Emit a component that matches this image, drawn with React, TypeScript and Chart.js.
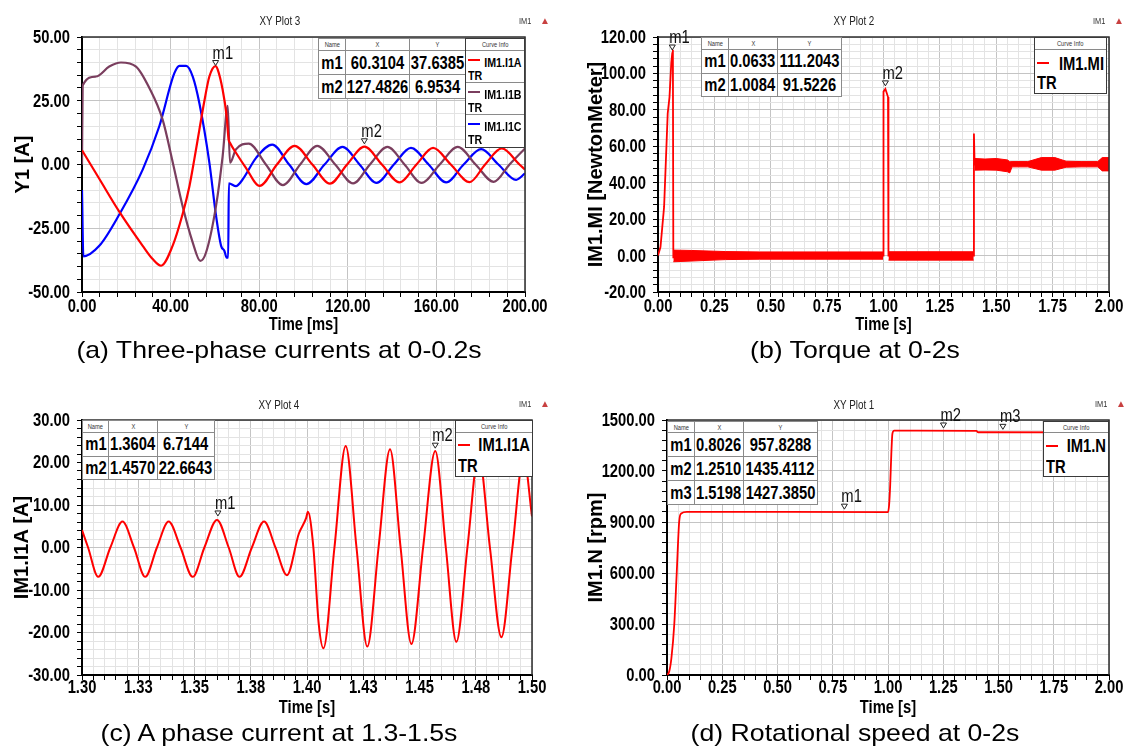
import React, { useEffect, useRef } from 'react';
import { Chart, registerables } from 'chart.js';

Chart.register(...registerables);

const SANS = "'Liberation Sans', Arial, sans-serif";
const NX = 0.82; // horizontal condensing factor (emulates a narrow face)
const MAJOR = '#c4c4c4';
const MINOR = '#e3e3e3';
const RED = '#ff0000';
const PURPLE = '#7a3e5e';
const BLUE = '#0000ff';

// ---------- (a) Three-phase currents, 0-200 ms ----------
const aTimeA = [0, 7.8, 16.9, 27.4, 31.9, 35.7, 40.9, 45.4, 48.5, 50.7, 53, 55.2, 57.5, 60.3, 61.2, 63.5, 65.3, 66.2, 66.8, 69.5, 74, 80.2, 88, 96, 104, 111.9, 119.7, 127.5, 135.4, 143.3, 151, 158.5, 166.5, 175, 182, 189.5, 197.5, 200];
const aCurA = [5.6, -5.6, -18.6, -31.9, -37.1, -39.7, -31.9, -19.5, -8.5, 2, 13.7, 24.7, 34.5, 38.6, 37.4, 29.3, 18.9, 9.8, 8.5, 4.6, -1.3, -8.4, 0, 7.3, 0, -7.5, 0, 7.0, 0, -7.0, 0, 6.5, 0, -6.9, 0, 6.3, 0, -2];
const aTimeB = [0, 0.3, 6.3, 12.3, 17.6, 24.4, 30.4, 36.4, 41, 45.4, 50, 53.4, 56, 60.5, 63.5, 65.8, 66.8, 69.5, 75.3, 83, 90.7, 98.5, 106.2, 114.3, 122.4, 130, 137.9, 145.6, 153.3, 161.5, 169.6, 177.7, 185.9, 193, 200];
const aCurB = [0, 31, 34.5, 38.4, 40, 38.4, 30, 17.6, 0.7, -16.3, -30.6, -37.8, -34.5, -16.3, 3.3, 23, 0.7, 5.9, 8.2, 0, -8.1, 0, 7.3, 0, -7.4, 0, 6.9, 0, -7.2, 0, 6.9, 0, -6.8, 0, 6.3];
const aTimeC = [0, 0.6, 7.8, 16.9, 27.4, 34.9, 41.7, 44, 47, 50, 53, 57.5, 60.5, 62.8, 64.3, 65.3, 66, 66.3, 69.5, 72.5, 78.6, 85.9, 93.5, 101.3, 109.5, 117.6, 125.3, 133, 140.8, 148.5, 156.5, 164.4, 172.3, 180.2, 188, 196, 200];
const aCurC = [-10, -36, -31.9, -19.5, -2, 15, 35.8, 38.7, 38.7, 34.5, 24, 0.7, -20, -31.9, -33.9, -36.5, -36.5, -7.4, -8.5, -5.9, 2.6, 7.8, 0, -7.7, 0, 6.9, 0, -7.2, 0, 6.5, 0, -7, 0, 6, 0, -6, -3.5];
const aXLabels = ['0.00', '40.00', '80.00', '120.00', '160.00', '200.00'];
const aYLabels = ['-50.00', '-25.00', '0.00', '25.00', '50.00'];
const aMarkNames = ['m1', 'm2'];
const aMarkX = [60.3104, 127.4826];
const aMarkY = [37.6385, 6.9534];

// ---------- (b) Torque, 0-2 s ----------
const bTime = [0, 0.011, 0.027, 0.043, 0.051, 0.059, 0.0633, 0.066, 0.068, 0.998, 1.0, 1.0084, 1.015, 1.02, 1.022, 1.4, 1.401, 1.404, 2.0];
const bTorque = [0, 4.7, 26.7, 78, 87, 106, 111.2, 113, -1, 0, 90, 91.5, 89, 87, 0, 0, 67, 50, 50];
const bBand1Time = [0.068, 0.15, 0.3, 0.45, 0.998];
const bBand1Up = [3.0, 2.8, 2.2, 2.0, 2.0];
const bBand1Low = [-3.4, -3.0, -2.2, -2.0, -2.0];
const bBand2Time = [1.022, 1.4];
const bBand2Up = [2.1, 2.1];
const bBand2Low = [-2.5, -2.5];
const bBand3Time = [1.404, 1.45, 1.5, 1.55, 1.56, 1.57, 1.64, 1.7, 1.76, 1.81, 1.88, 1.95, 1.97, 2.0];
const bBand3Up = [53.3, 53.0, 53.3, 52.5, 51.5, 51.6, 51.6, 53.8, 53.8, 51.8, 51.6, 51.6, 53.8, 53.8];
const bBand3Low = [46.9, 47.0, 46.9, 46.0, 45.4, 48.7, 48.7, 46.9, 46.9, 48.5, 48.7, 48.7, 46.5, 46.5];
const bXLabels = ['0.00', '0.25', '0.50', '0.75', '1.00', '1.25', '1.50', '1.75', '2.00'];
const bYLabels = ['-20.00', '0.00', '20.00', '40.00', '60.00', '80.00', '100.00', '120.00'];
const bMarkNames = ['m1', 'm2'];
const bMarkX = [0.0633, 1.0084];
const bMarkY = [111.2043, 91.5226];

// ---------- (c) A phase current, 1.3-1.5 s ----------
const cTime = [1.3, 1.3027, 1.3072, 1.3126, 1.318, 1.3231, 1.3281, 1.3333, 1.3385, 1.3438, 1.3492, 1.3544, 1.36, 1.3652, 1.37, 1.3755, 1.3809, 1.386, 1.3911, 1.3964, 1.3996, 1.4004, 1.4028, 1.4052, 1.4073, 1.4122, 1.4172, 1.422, 1.4268, 1.4318, 1.4369, 1.4416, 1.4464, 1.4516, 1.457, 1.4617, 1.4664, 1.4713, 1.4763, 1.4813, 1.4864, 1.4913, 1.4963, 1.5];
const cCur = [4.1, 0, -6.9, 0, 6.1, 0, -6.9, 0, 6.1, 0, -6.9, 0, 6.5, 0, -6.9, 0, 6.1, 0, -6.5, 3.3, 6.9, 8.4, 0.2, -17.9, -23.7, 0, 23.9, 0, -23.3, 0, 23.1, 0, -22.7, 0, 22.7, 0, -22.2, 0, 22.0, 0, -21.1, 0, 21.5, 7.3];
const cXLabels = ['1.30', '1.33', '1.35', '1.38', '1.40', '1.43', '1.45', '1.48', '1.50'];
const cYLabels = ['-30.00', '-20.00', '-10.00', '0.00', '10.00', '20.00', '30.00'];
const cMarkNames = ['m1', 'm2'];
const cMarkX = [1.3604, 1.457];
const cMarkY = [6.7144, 22.6643];

// ---------- (d) Rotational speed, 0-2 s ----------
const dTime = [0, 0.01, 0.02, 0.033, 0.044, 0.055, 0.064, 0.09, 1.0, 1.005, 1.01, 1.015, 1.02, 1.028, 1.4, 1.408, 2.0];
const dSpeed = [0, 20, 100, 300, 600, 900, 950, 960, 958, 1000, 1120, 1300, 1420, 1437, 1436, 1428, 1427];
const dXLabels = ['0.00', '0.25', '0.50', '0.75', '1.00', '1.25', '1.50', '1.75', '2.00'];
const dYLabels = ['0.00', '300.00', '600.00', '900.00', '1200.00', '1500.00'];
const dMarkNames = ['m1', 'm2', 'm3'];
const dMarkX = [0.8026, 1.251, 1.5198];
const dMarkY = [957.8288, 1435.4112, 1427.385];

const pts = (xs: number[], ys: number[]) => xs.map((x, i) => ({ x, y: ys[i] }));

type AxisSpec = {
  min: number; max: number; step: number; per: number; labels: string[];
  title: string; size: number; titlePad: number;
};

function buildScale(ax: AxisSpec, isX: boolean) {
  return {
    type: 'linear',
    min: ax.min,
    max: ax.max,
    afterBuildTicks: (scale: any) => {
      const n = Math.round((ax.max - ax.min) / ax.step);
      const t: any[] = [];
      for (let i = 0; i <= n; i++) t.push({ value: ax.min + i * ax.step });
      scale.ticks = t;
    },
    afterFit: (scale: any) => {
      if (isX) scale.height = ax.size; else scale.width = ax.size;
    },
    ticks: { display: false, autoSkip: false, maxRotation: 0, minRotation: 0 },
    grid: {
      color: (c: any) => (c.index % ax.per === 0 ? MAJOR : MINOR),
      lineWidth: 1,
      drawTicks: true,
      tickLength: 5,
      tickColor: '#000',
    },
    border: { display: true, color: '#000', width: 2 },
    title: isX
      ? { display: false }
      : {
          display: true,
          text: ax.title,
          color: '#000',
          font: { family: SANS, size: 20, weight: 'bold' },
          padding: { top: ax.titlePad, bottom: 0 },
        },
  };
}

function narrowText(ctx: any, text: string, x: number, y: number, align: string, font: string) {
  ctx.save();
  ctx.translate(x, y);
  ctx.scale(NX, 1);
  ctx.font = font;
  ctx.textAlign = align;
  ctx.fillText(text, 0, 0);
  ctx.restore();
}

const BOLD18 = `bold 18px ${SANS}`;

const decorPlugin = {
  id: 'xyDecor',
  afterDraw(chart: any, _args: any, opts: any) {
    const { ctx, chartArea: ca, scales } = chart;
    const sx = scales.x;
    const sy = scales.y;
    ctx.save();
    // frame top/right
    ctx.strokeStyle = '#2e2e2e';
    ctx.lineWidth = 1.5;
    ctx.beginPath();
    ctx.moveTo(ca.left, ca.top);
    ctx.lineTo(ca.right, ca.top);
    ctx.lineTo(ca.right, ca.bottom);
    ctx.stroke();

    ctx.fillStyle = '#000';
    ctx.textBaseline = 'middle';
    // x tick labels on major ticks
    sx.ticks.forEach((_t: any, i: number) => {
      if (i % opts.xPer !== 0) return;
      const lab = opts.xLabels[i / opts.xPer];
      if (lab === undefined) return;
      narrowText(ctx, lab, sx.getPixelForTick(i), ca.bottom + opts.xLabelOff, 'center', BOLD18);
    });
    // y tick labels
    sy.ticks.forEach((_t: any, i: number) => {
      if (i % opts.yPer !== 0) return;
      const lab = opts.yLabels[i / opts.yPer];
      if (lab === undefined) return;
      narrowText(ctx, lab, ca.left - 12, sy.getPixelForTick(i) + 1, 'right', BOLD18);
    });
    // x axis title
    narrowText(ctx, opts.xTitle, (ca.left + ca.right) / 2, ca.bottom + opts.xTitleOff, 'center', BOLD18);

    // markers
    const names: string[] = opts.names || [];
    names.forEach((name, i) => {
      const px = sx.getPixelForValue(opts.xs[i]);
      const py = sy.getPixelForValue(opts.ys[i]);
      ctx.beginPath();
      ctx.moveTo(px - 3, py - 8);
      ctx.lineTo(px + 3, py - 8);
      ctx.lineTo(px, py - 3);
      ctx.closePath();
      ctx.fillStyle = '#fff';
      ctx.fill();
      ctx.strokeStyle = '#222';
      ctx.lineWidth = 1;
      ctx.stroke();
      ctx.fillStyle = '#111';
      ctx.textBaseline = 'alphabetic';
      narrowText(ctx, name, px - 3, py - 10, 'left', `18px ${SANS}`);
      ctx.textBaseline = 'middle';
      ctx.fillStyle = '#000';
    });
    ctx.restore();
  },
};

type PlotSpec = {
  left: number; top: number; width: number; height: number;
  pad: { top: number; right: number };
  x: AxisSpec; y: AxisSpec;
  xLabelOff: number; xTitleOff: number;
  datasets: any[];
  marks: { names: string[]; xs: number[]; ys: number[] };
};

function Plot({ spec }: { spec: PlotSpec }) {
  const ref = useRef<HTMLCanvasElement | null>(null);
  useEffect(() => {
    if (!ref.current) return;
    const chart = new Chart(ref.current, {
      type: 'line',
      data: { datasets: spec.datasets },
      options: {
        animation: false,
        responsive: false,
        maintainAspectRatio: false,
        events: [],
        layout: { padding: { left: 0, top: spec.pad.top, right: spec.pad.right, bottom: 0 } },
        elements: { point: { radius: 0 } },
        plugins: {
          legend: { display: false },
          tooltip: { enabled: false },
          title: { display: false },
          xyDecor: {
            ...spec.marks,
            xLabels: spec.x.labels,
            yLabels: spec.y.labels,
            xPer: spec.x.per,
            yPer: spec.y.per,
            xTitle: spec.x.title,
            xLabelOff: spec.xLabelOff,
            xTitleOff: spec.xTitleOff,
          },
        } as any,
        scales: {
          x: buildScale(spec.x, true) as any,
          y: buildScale(spec.y, false) as any,
        },
      },
      plugins: [decorPlugin as any],
    });
    return () => chart.destroy();
  }, []);
  return (
    <canvas
      ref={ref}
      width={spec.width}
      height={spec.height}
      style={{ position: 'absolute', left: spec.left, top: spec.top, width: spec.width, height: spec.height }}
    />
  );
}

const line = (label: string, data: any[], color: string, width = 2, mode = 'monotone') => ({
  label,
  data,
  borderColor: color,
  backgroundColor: color,
  borderWidth: width,
  pointRadius: 0,
  fill: false,
  cubicInterpolationMode: mode,
  tension: 0,
});

const bandUp = (data: any[]) => ({ label: 'band', data, borderColor: RED, borderWidth: 1, pointRadius: 0, fill: false, tension: 0 });
const bandLow = (data: any[]) => ({ label: 'band', data, borderColor: RED, backgroundColor: RED, borderWidth: 1, pointRadius: 0, fill: '-1', tension: 0 });

const specA: PlotSpec = {
  left: 0, top: 0, width: 563, height: 340,
  pad: { top: 37, right: 38 },
  x: { min: 0, max: 200, step: 8, per: 5, labels: aXLabels, title: 'Time [ms]', size: 48, titlePad: 0 },
  y: { min: -50, max: 50, step: 5, per: 5, labels: aYLabels, title: 'Y1 [A]', size: 82, titlePad: 11.4 },
  xLabelOff: 15, xTitleOff: 33,
  datasets: [
    line('IM1.I1A', pts(aTimeA, aCurA), RED, 2.2),
    line('IM1.I1B', pts(aTimeB, aCurB), PURPLE, 2.2),
    line('IM1.I1C', pts(aTimeC, aCurC), BLUE, 2.2),
  ],
  marks: { names: aMarkNames, xs: aMarkX, ys: aMarkY },
};

const specB: PlotSpec = {
  left: 563, top: 0, width: 563, height: 340,
  pad: { top: 37, right: 17 },
  x: { min: 0, max: 2, step: 0.05, per: 5, labels: bXLabels, title: 'Time [s]', size: 48, titlePad: 0 },
  y: { min: -20, max: 120, step: 4, per: 5, labels: bYLabels, title: 'IM1.MI [NewtonMeter]', size: 95, titlePad: 21.3 },
  xLabelOff: 15, xTitleOff: 33,
  datasets: [
    line('IM1.MI', pts(bTime, bTorque), RED, 1.8, 'default'),
    bandUp(pts(bBand1Time, bBand1Up)),
    bandLow(pts(bBand1Time, bBand1Low)),
    bandUp(pts(bBand2Time, bBand2Up)),
    bandLow(pts(bBand2Time, bBand2Low)),
    bandUp(pts(bBand3Time, bBand3Up)),
    bandLow(pts(bBand3Time, bBand3Low)),
  ],
  marks: { names: bMarkNames, xs: bMarkX, ys: bMarkY },
};

const specC: PlotSpec = {
  left: 0, top: 380, width: 563, height: 345,
  pad: { top: 40, right: 31 },
  x: { min: 1.3, max: 1.5, step: 0.005, per: 5, labels: cXLabels, title: 'Time [s]', size: 50, titlePad: 0 },
  y: { min: -30, max: 30, step: 2, per: 5, labels: cYLabels, title: 'IM1.I1A [A]', size: 82, titlePad: 10.5 },
  xLabelOff: 13.5, xTitleOff: 33,
  datasets: [line('IM1.I1A', pts(cTime, cCur), RED, 2)],
  marks: { names: cMarkNames, xs: cMarkX, ys: cMarkY },
};

const specD: PlotSpec = {
  left: 563, top: 380, width: 563, height: 345,
  pad: { top: 40, right: 17 },
  x: { min: 0, max: 2, step: 0.05, per: 5, labels: dXLabels, title: 'Time [s]', size: 50, titlePad: 0 },
  y: { min: 0, max: 1500, step: 60, per: 5, labels: dYLabels, title: 'IM1.N [rpm]', size: 104, titlePad: 21 },
  xLabelOff: 13.5, xTitleOff: 33,
  datasets: [line('IM1.N', pts(dTime, dSpeed), RED, 1.8)],
  marks: { names: dMarkNames, xs: dMarkX, ys: dMarkY },
};

function Narrow({ children, origin = 'center' }: { children: React.ReactNode; origin?: string }) {
  return (
    <span style={{ display: 'inline-block', transform: `scaleX(${NX})`, transformOrigin: origin, whiteSpace: 'nowrap' }}>
      {children}
    </span>
  );
}

const cellBase: React.CSSProperties = {
  border: '1px solid #8a8a8a',
  padding: 0,
  verticalAlign: 'middle',
  overflow: 'hidden',
  lineHeight: 1,
};

function Cell({ text, head, h }: { text: string; head?: boolean; h: number }) {
  return (
    <td style={{ ...cellBase, height: h }}>
      <div
        style={{
          display: 'flex', justifyContent: 'center', alignItems: 'center', height: h, overflow: 'visible',
          fontFamily: SANS, fontSize: head ? 7 : 18, fontWeight: head ? 'normal' : 'bold', color: head ? '#333' : '#000',
        }}
      >
        <Narrow>{text}</Narrow>
      </div>
    </td>
  );
}

function MarkerTable(props: {
  left: number; top: number; widths: number[]; headH: number; rowH: number;
  names: string[]; xs: number[]; ys: number[];
}) {
  const { left, top, widths, headH, rowH, names, xs, ys } = props;
  const total = widths.reduce((a, b) => a + b, 0);
  return (
    <table
      style={{
        position: 'absolute', left, top, width: total, borderCollapse: 'collapse', tableLayout: 'fixed',
        background: '#fff', border: '1.5px solid #3a3a3a',
      }}
    >
      <colgroup>
        {widths.map((w, i) => (
          <col key={i} style={{ width: w }} />
        ))}
      </colgroup>
      <tbody>
        <tr>
          <Cell text="Name" head h={headH - 1} />
          <Cell text="X" head h={headH - 1} />
          <Cell text="Y" head h={headH - 1} />
        </tr>
        {names.map((n, i) => (
          <tr key={n}>
            <Cell text={n} h={rowH - 1} />
            <Cell text={xs[i].toFixed(4)} h={rowH - 1} />
            <Cell text={ys[i].toFixed(4)} h={rowH - 1} />
          </tr>
        ))}
      </tbody>
    </table>
  );
}

function CurveInfo(props: {
  left: number; top: number; width: number; headH: number; entryH: number; font: number;
  lineOff: number; labelOff: number; trOff: number; entries: { label: string; color: string }[];
}) {
  const { left, top, width, headH, entryH, font, lineOff, labelOff, trOff, entries } = props;
  return (
    <div
      style={{
        position: 'absolute', left, top, width, height: headH + entries.length * entryH + 2,
        boxSizing: 'border-box', border: '1.5px solid #3a3a3a', background: '#fff',
      }}
    >
      <div
        style={{
          height: headH, boxSizing: 'border-box', borderBottom: '1px solid #8a8a8a', fontFamily: SANS,
          fontSize: 7, color: '#333', textAlign: 'center', lineHeight: `${headH}px`,
        }}
      >
        <Narrow>Curve Info</Narrow>
      </div>
      {entries.map((e, i) => (
        <div
          key={e.label}
          style={{
            position: 'relative', height: entryH, boxSizing: 'border-box',
            borderBottom: i < entries.length - 1 ? '1px solid #8a8a8a' : 'none',
          }}
        >
          <div style={{ position: 'absolute', left: 2, top: lineOff - 1, width: 12, height: 2, background: e.color }} />
          <div
            style={{
              position: 'absolute', right: 2, top: labelOff - font * 0.49, fontFamily: SANS, fontWeight: 'bold',
              fontSize: font, lineHeight: 1, color: '#000', whiteSpace: 'nowrap',
            }}
          >
            <Narrow origin="right">{e.label}</Narrow>
          </div>
          <div
            style={{
              position: 'absolute', left: 2, top: trOff - font * 0.49, fontFamily: SANS, fontWeight: 'bold',
              fontSize: font, lineHeight: 1, color: '#000',
            }}
          >
            <Narrow origin="left">TR</Narrow>
          </div>
        </div>
      ))}
    </div>
  );
}

function Title({ cx, cy, text }: { cx: number; cy: number; text: string }) {
  return (
    <div
      style={{
        position: 'absolute', left: cx - 100, width: 200, top: cy - 6, textAlign: 'center',
        fontFamily: SANS, fontSize: 12, lineHeight: 1, color: '#222',
      }}
    >
      <Narrow>{text}</Narrow>
    </div>
  );
}

function Logo({ x, y }: { x: number; y: number }) {
  return (
    <div style={{ position: 'absolute', left: x, top: y - 5, fontFamily: SANS, fontSize: 9, lineHeight: 1, color: '#333', whiteSpace: 'nowrap' }}>
      <Narrow origin="left">IM1</Narrow>
      <span style={{ marginLeft: 6, color: '#c84040', fontSize: 10 }}>▲</span>
    </div>
  );
}

function Caption({ cx, cy, text }: { cx: number; cy: number; text: string }) {
  return (
    <div
      style={{
        position: 'absolute', left: cx - 260, width: 520, top: cy - 12, textAlign: 'center',
        fontFamily: SANS, fontSize: 24, lineHeight: 1, color: '#000', whiteSpace: 'nowrap',
        transform: 'scaleX(1.11)', transformOrigin: 'center',
      }}
    >
      {text}
    </div>
  );
}

export default function App() {
  useEffect(() => {
    document.body.style.margin = '0';
  }, []);
  return (
    <div style={{ position: 'absolute', left: 0, top: 0, width: 1126, height: 747, background: '#fff', overflow: 'hidden' }}>
      <Plot spec={specA} />
      <Plot spec={specB} />
      <Plot spec={specC} />
      <Plot spec={specD} />

      <Title cx={280} cy={21} text="XY Plot 3" />
      <Title cx={854} cy={21} text="XY Plot 2" />
      <Title cx={279} cy={405} text="XY Plot 4" />
      <Title cx={854} cy={405} text="XY Plot 1" />

      <Logo x={519} y={21} />
      <Logo x={1093} y={21} />
      <Logo x={519} y={404} />
      <Logo x={1095} y={404} />

      <MarkerTable left={318} top={38} widths={[27, 64, 56]} headH={12} rowH={24} names={aMarkNames} xs={aMarkX} ys={aMarkY} />
      <MarkerTable left={701} top={37} widths={[27, 49, 64]} headH={12} rowH={23.5} names={bMarkNames} xs={bMarkX} ys={bMarkY} />
      <MarkerTable left={82} top={420} widths={[26, 49, 57]} headH={12} rowH={23.5} names={cMarkNames} xs={cMarkX} ys={cMarkY} />
      <MarkerTable left={667} top={421} widths={[27, 49, 74]} headH={11} rowH={24} names={dMarkNames} xs={dMarkX} ys={dMarkY} />

      <CurveInfo
        left={465} top={38} width={60} headH={12} entryH={32} font={13} lineOff={9} labelOff={11} trOff={24}
        entries={[{ label: 'IM1.I1A', color: RED }, { label: 'IM1.I1B', color: PURPLE }, { label: 'IM1.I1C', color: BLUE }]}
      />
      <CurveInfo left={1034} top={37} width={73} headH={12} entryH={43} font={18} lineOff={13} labelOff={14} trOff={33} entries={[{ label: 'IM1.MI', color: RED }]} />
      <CurveInfo left={455} top={420} width={78} headH={12} entryH={43} font={18} lineOff={12} labelOff={12} trOff={33} entries={[{ label: 'IM1.I1A', color: RED }]} />
      <CurveInfo left={1043} top={421} width={66} headH={11} entryH={43} font={18} lineOff={13} labelOff={13} trOff={34} entries={[{ label: 'IM1.N', color: RED }]} />

      <Caption cx={279} cy={350} text="(a) Three-phase currents at 0-0.2s" />
      <Caption cx={855} cy={350} text="(b) Torque at 0-2s" />
      <Caption cx={279} cy={733} text="(c) A phase current at 1.3-1.5s" />
      <Caption cx={855} cy={733} text="(d) Rotational speed at 0-2s" />
    </div>
  );
}
